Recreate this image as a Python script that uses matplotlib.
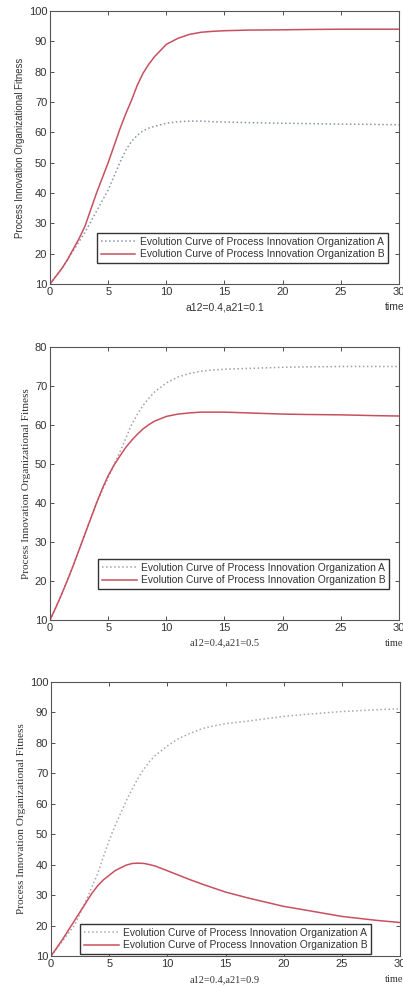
import matplotlib.pyplot as plt

# time points (shared by all three panels)
t = [0, 0.5, 1, 1.5, 2, 2.5, 3, 3.5, 4, 4.5, 5, 5.5, 6, 6.5, 7, 7.5, 8, 8.5, 9, 10,
     11, 12, 13, 14, 15, 17, 20, 22, 25, 28, 30]

# panel 1: a12=0.4, a21=0.1
a_1 = [10, 12.5, 15, 18, 21, 24, 27, 30.5, 34, 37.5, 41, 45.5, 50, 54, 57, 59, 60.5, 61.4,
       62, 63, 63.5, 63.7, 63.7, 63.5, 63.4, 63.2, 63, 62.9, 62.7, 62.6, 62.5]
b_1 = [10, 12.5, 15, 18, 21.5, 25, 29, 34.5, 40, 45, 50, 55.5, 61, 66, 70.5, 75.5, 79.5, 82.5,
       85, 89, 91, 92.3, 93, 93.3, 93.5, 93.7, 93.8, 93.9, 94, 94, 94]

# panel 2: a12=0.4, a21=0.5
a_2 = [10, 13.2, 16.6, 20.2, 24, 28, 32, 36, 40, 43.3, 46.5, 49.8, 53, 56.5, 60, 62.7, 65, 66.9,
       68.5, 70.8, 72.3, 73.2, 73.8, 74.1, 74.3, 74.5, 74.8, 74.9, 75, 75, 75]
b_2 = [10, 13.2, 16.6, 20.2, 24, 28, 32, 36, 40, 43.7, 47, 49.7, 52, 54.2, 56, 57.6, 59, 60.1,
       61, 62.2, 62.8, 63.1, 63.3, 63.3, 63.3, 63.1, 62.8, 62.7, 62.6, 62.4, 62.3]

# panel 3: a12=0.4, a21=0.9
a_3 = [10, 12.5, 15, 17.5, 20, 24, 28, 32.5, 37, 42.5, 48, 52.7, 57, 61.2, 65, 68.5, 71.5, 74,
       76, 79, 81.5, 83.2, 84.7, 85.6, 86.3, 87.2, 88.7, 89.4, 90.3, 90.9, 91.2]
b_3 = [10, 12.7, 15.5, 18.5, 21.5, 24.5, 27.5, 30.5, 33, 35, 36.5, 38, 39, 39.9, 40.4, 40.5,
       40.4, 40, 39.5, 38, 36.5, 35, 33.6, 32.3, 31, 29, 26.3, 25, 23, 21.7, 21]

series = [(a_1, b_1), (a_2, b_2), (a_3, b_3)]
xlabels = ["a12=0.4,a21=0.1", "a12=0.4,a21=0.5", "a12=0.4,a21=0.9"]
ylims = [(10, 100), (10, 80), (10, 100)]
label_a = "Evolution Curve of Process Innovation Organization A"
label_b = "Evolution Curve of Process Innovation Organization B"

W, H = 403, 986
# axes boxes in pixels: left, top, right, bottom
boxes = [(50, 11, 399, 284), (50, 347, 399, 620), (51, 682, 400, 956)]
leg_anchor = [(0.968, 0.077), (0.971, 0.114), (0.917, 0.007)]
xlab_y = [307, 643, 980]
a_colors = ["#8c93b0", "#a0a0a8", "#a8a8ae"]
xlab_font = ["Liberation Sans", "Liberation Serif", "Liberation Serif"]
ylab_font = ["Liberation Sans", "Liberation Serif", "Liberation Serif"]
ylab_size = [6.9, 8.1, 8.1]

fig = plt.figure(figsize=(W / 100, H / 100), dpi=100)

for i in range(3):
    l, tp, r, b = boxes[i]
    ax = fig.add_axes([l / W, 1 - b / H, (r - l) / W, (b - tp) / H])
    a_vals, b_vals = series[i]
    ax.plot(t, a_vals, linestyle=":", color=a_colors[i], lw=1.1, label=label_a)
    ax.plot(t, b_vals, linestyle="-", color="#c8505e", lw=1.1, label=label_b)
    ax.set_xlim(0, 30)
    ax.set_ylim(*ylims[i])
    ax.set_xticks([0, 5, 10, 15, 20, 25, 30])
    ax.tick_params(direction="in", top=True, right=True, length=3, width=0.6,
                   labelsize=8, colors="#333333", pad=2)
    for lab in ax.get_xticklabels() + ax.get_yticklabels():
        lab.set_family("Liberation Sans")
    for s in ax.spines.values():
        s.set_color("#555555")
        s.set_linewidth(0.8)
    ax.set_ylabel("Process Innovation Organizational Fitness", fontsize=ylab_size[i],
                  family=ylab_font[i], color="#333333", labelpad=3)
    fig.text(225 / W, 1 - xlab_y[i] / H, xlabels[i], fontsize=7.5, family=xlab_font[i],
             ha="center", va="center", color="#333333")
    fig.text(385 / W, 1 - xlab_y[i] / H, "time", fontsize=7.5, family=xlab_font[i],
             ha="left", va="center", color="#333333")
    leg = ax.legend(loc="lower right", bbox_to_anchor=leg_anchor[i], borderaxespad=0,
                    prop={"family": "Liberation Sans", "size": 7.4},
                    handlelength=3.4, handletextpad=0.4, fancybox=False,
                    framealpha=1, edgecolor="#333333", borderpad=0.35,
                    labelspacing=0.25)
    leg.get_frame().set_linewidth(1.0)
    for txt in leg.get_texts():
        txt.set_color("#333333")

fig.savefig("out.png", dpi=100)
